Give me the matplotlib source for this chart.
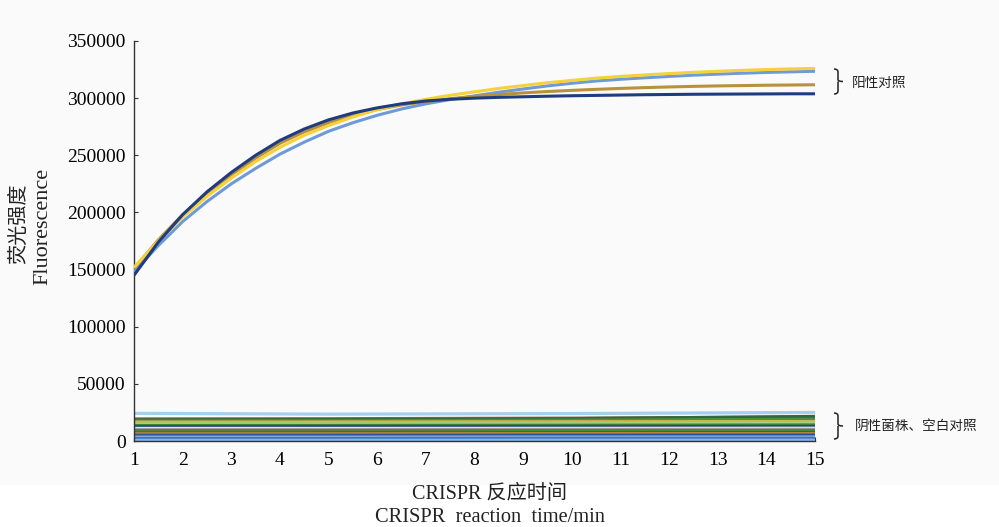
import matplotlib
matplotlib.use("Agg")
import matplotlib.pyplot as plt
from matplotlib.path import Path
from matplotlib.patches import PathPatch, Rectangle

# ---- data -------------------------------------------------------------
# positive controls, read every half minute
minutes = [1 + 0.5 * i for i in range(29)]

pos_navy = [145000, 174000, 198000, 218000, 235000, 250000, 263000, 273000,
            281000, 287000, 291500, 295000, 297500, 299000, 300000, 300700,
            301200, 301700, 302100, 302400, 302700, 303000, 303200, 303400,
            303500, 303600, 303700, 303800, 303800]
pos_yellow = [152000, 175000, 196000, 214000, 230000, 244500, 257000, 267500,
              276000, 283500, 290000, 295000, 299000, 302500, 305500, 308500,
              311000, 313500, 315500, 317500, 319000, 320300, 321500, 322600,
              323500, 324300, 325000, 325600, 326000]
pos_lightblue = [148000, 171000, 192000, 209500, 225000, 238500, 251000, 261500,
                 271000, 278500, 285000, 290500, 295000, 298800, 302000, 305200,
                 308000, 310700, 313000, 315000, 316500, 317800, 319000, 320100,
                 321000, 321800, 322500, 323000, 323500]
pos_gold = [151000, 176000, 198000, 217000, 233000, 247500, 260500, 270500,
            278500, 285000, 290000, 294000, 297000, 299500, 301500, 303200,
            304600, 305800, 306800, 307700, 308500, 309200, 309800, 310300,
            310700, 311000, 311300, 311500, 311700]

pos_series = [pos_lightblue, pos_gold, pos_yellow, pos_navy]
pos_colors = ["#6f9ad8", "#b8913c", "#f5d13a", "#1f3c80"]

# negative strains / blank controls, sampled at these minutes
neg_minutes = [1, 5, 10, 15]
neg_series = [
    [24200, 23500, 24000, 25000],
    [19300, 19500, 20000, 21000],
    [18500, 18700, 19500, 21500],
    [17500, 17700, 18200, 19000],
    [16500, 16600, 16800, 17000],
    [15500, 15600, 16000, 16500],
    [14500, 14600, 14800, 15200],
    [13500, 13600, 13800, 14000],
    [12200, 12300, 12400, 12500],
    [11000, 11000, 11100, 11200],
    [10000, 10000, 10100, 10200],
    [9200, 9200, 9300, 9300],
    [8000, 8000, 8200, 8500],
    [7000, 7100, 7200, 7400],
    [6200, 6200, 6300, 6300],
    [5200, 5200, 5300, 5400],
    [4300, 4300, 4400, 4400],
    [3400, 3400, 3500, 3500],
    [2300, 2300, 2400, 2400],
    [1200, 1200, 1300, 1300],
    [400, 400, 500, 500],
]
neg_colors = ["#a5cfee", "#8b6a4b", "#2d6a3c", "#4c8f3f", "#e3b04a", "#a9c65a",
              "#9fd58c", "#3b7f3b", "#1d3f7d", "#e6e6e6", "#a8a8a8", "#9b5b3a",
              "#3f8f3f", "#2f6a3a", "#d88a3a", "#2e6ab8", "#22427f", "#9ab6d8",
              "#3b74c4", "#4a86d0", "#86b4e6"]

y_ticks = [0, 50000, 100000, 150000, 200000, 250000, 300000, 350000]
x_ticks = list(range(1, 16))

pos_label = "阳性对照"
neg_label = "阴性菌株、空白对照"
xlabel_cn = "CRISPR 反应时间"
xlabel_en = "CRISPR  reaction  time/min"
ylabel_cn = "荧光强度"
ylabel_en = "Fluorescence"

# ---- figure -----------------------------------------------------------
W, H = 999, 527
fig = plt.figure(figsize=(W / 100, H / 100), dpi=100, facecolor="#fafafa")
fig.patches.append(Rectangle((0, 0), 1, 42 / H, transform=fig.transFigure,
                             facecolor="white", edgecolor="none", zorder=0))

ax = fig.add_axes([134 / W, 1 - 441 / H, (815 - 134) / W, (441 - 41) / H])
ax.set_facecolor("none")

serif = ["Liberation Serif", "DejaVu Serif"]
cjk = ["Noto Sans CJK SC", "DejaVu Sans"]
mixed = ["Liberation Serif", "Noto Sans CJK SC"]

for vals, c in zip(neg_series, neg_colors):
    ax.plot(neg_minutes, vals, color=c, lw=2.3, solid_capstyle="butt", zorder=2)

for vals, c in zip(pos_series, pos_colors):
    ax.plot(minutes, vals, color=c, lw=2.2, solid_capstyle="butt", zorder=3)

ax.set_xlim(1, 15)
ax.set_ylim(0, 350000)
ax.set_xticks(x_ticks)
ax.set_yticks(y_ticks)
ax.set_xticklabels([str(v) for v in x_ticks], fontfamily=serif, fontsize=14)
ax.set_yticklabels([str(v) for v in y_ticks], fontfamily=serif, fontsize=14)
ax.tick_params(direction="in", length=3, width=0.8, color="#333333")
ax.tick_params(axis="x", pad=8)
ax.tick_params(axis="y", pad=6)
for s in ("top", "right"):
    ax.spines[s].set_visible(False)
for s in ("left", "bottom"):
    ax.spines[s].set_color("#333333")
    ax.spines[s].set_linewidth(1.0)

# axis titles
fig.text(490 / W, 1 - 494 / H, xlabel_cn, ha="center", va="center",
         fontsize=14.5, family=mixed, color="#222222")
fig.text(490 / W, 1 - 517 / H, xlabel_en, ha="center", va="center",
         fontsize=14.7, family=serif, color="#222222")
fig.text(19 / W, 1 - 224 / H, ylabel_cn, ha="center", va="center",
         rotation=90, fontsize=14.5, family=cjk, color="#222222")
fig.text(43 / W, 1 - 226 / H, ylabel_en, ha="center", va="center",
         rotation=90, fontsize=16, family=serif, color="#222222")


def brace(x0, y_top, y_bot):
    """Right-facing curly brace drawn in figure pixel coordinates."""
    ym = (y_top + y_bot) / 2
    w = 4.0
    pts = [
        (x0, y_top), (x0 + w, y_top), (x0 + w, y_top + 3), (x0 + w, y_top + 3),
        (x0 + w, ym - 2), (x0 + w, ym), (x0 + w + 5, ym),
        (x0 + w, ym), (x0 + w, ym + 2),
        (x0 + w, y_bot - 3), (x0 + w, y_bot), (x0, y_bot),
    ]
    codes = [Path.MOVETO, Path.CURVE3, Path.CURVE3, Path.LINETO,
             Path.LINETO, Path.CURVE3, Path.CURVE3,
             Path.MOVETO, Path.LINETO,
             Path.LINETO, Path.CURVE3, Path.CURVE3]
    verts = [(x / W, 1 - y / H) for x, y in pts]
    fig.patches.append(PathPatch(Path(verts, codes), transform=fig.transFigure,
                                 facecolor="none", edgecolor="#222222", lw=1.1))


brace(834, 69, 94)
fig.text(852 / W, 1 - 83 / H, pos_label, ha="left", va="center",
         fontsize=9.8, family=cjk, color="#222222")
brace(834, 413, 439)
fig.text(855 / W, 1 - 426 / H, neg_label, ha="left", va="center",
         fontsize=9.8, family=cjk, color="#222222")

fig.savefig("out.png", dpi=100, facecolor=fig.get_facecolor())
